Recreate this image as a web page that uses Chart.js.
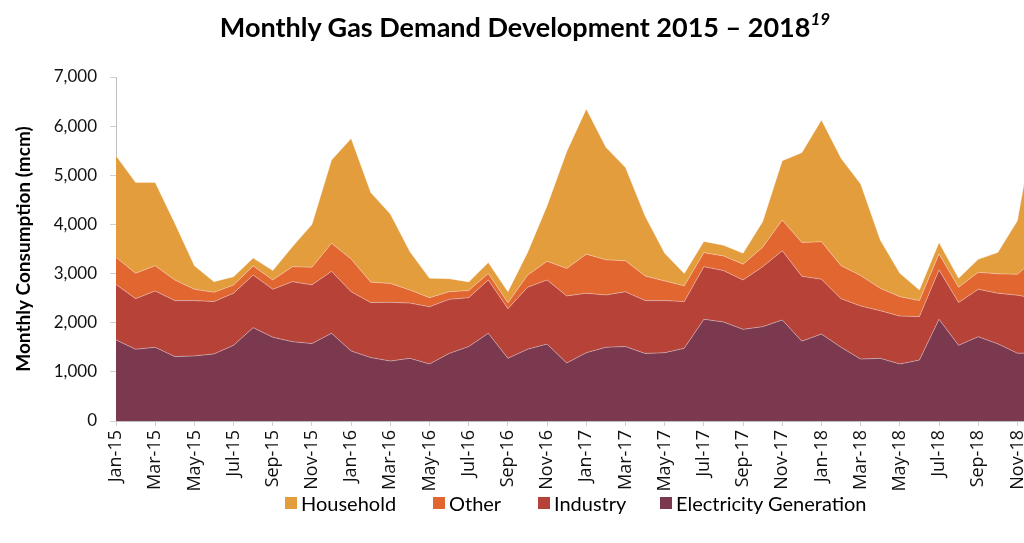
<!DOCTYPE html>
<html>
<head>
<meta charset="utf-8">
<script src="https://cdn.jsdelivr.net/npm/chart.js@4/dist/chart.umd.min.js"></script>
<style>
  html, body { margin: 0; padding: 0; background: #fff; overflow: hidden; width: 1024px; height: 543px; }
  #wrap { position: absolute; left: 0; top: 0; width: 1046px; height: 543px; }
  #title { position: absolute; top: 10px; left: 0; width: 1050px; text-align: center; font-family: Lato, "Open Sans", sans-serif; font-weight: bold; font-size: 27px; color: #000; white-space: nowrap; }
  #title sup { font-style: italic; font-size: 17px; position: relative; top: -2px; }
  #legend { position: absolute; top: 0; left: 0; font-family: Lato, "Open Sans", sans-serif; font-size: 20px; color: #000; white-space: nowrap; }
  .item { position: absolute; top: 491px; display: flex; align-items: center; height: 24px; }
  .box { width: 12px; height: 12px; margin-right: 4px; }
</style>
</head>
<body>
<div id="wrap"><canvas id="c" width="1046" height="543"></canvas></div>
<div id="title">Monthly Gas Demand Development 2015 – 2018<sup>19</sup></div>
<div id="legend"></div>
<script>
const months = ["Jan-15","Feb-15","Mar-15","Apr-15","May-15","Jun-15","Jul-15","Aug-15","Sep-15","Oct-15","Nov-15","Dec-15",
  "Jan-16","Feb-16","Mar-16","Apr-16","May-16","Jun-16","Jul-16","Aug-16","Sep-16","Oct-16","Nov-16","Dec-16",
  "Jan-17","Feb-17","Mar-17","Apr-17","May-17","Jun-17","Jul-17","Aug-17","Sep-17","Oct-17","Nov-17","Dec-17",
  "Jan-18","Feb-18","Mar-18","Apr-18","May-18","Jun-18","Jul-18","Aug-18","Sep-18","Oct-18","Nov-18","Dec-18"];

const electricity = [1650,1460,1500,1310,1325,1365,1540,1900,1705,1615,1575,1785,
  1425,1290,1220,1275,1160,1375,1515,1785,1275,1460,1565,1180,
  1390,1500,1515,1375,1390,1480,2070,2015,1865,1920,2055,1625,
  1770,1500,1260,1275,1160,1240,2070,1540,1715,1570,1380,1380];
const industry = [1130,1030,1145,1140,1125,1065,1060,1070,975,1220,1195,1260,
  1205,1120,1195,1125,1165,1100,995,1085,1010,1260,1305,1365,
  1210,1065,1115,1075,1060,950,1070,1045,1005,1220,1410,1320,
  1115,990,1080,970,975,885,1005,870,965,1030,1180,1110];
const other = [550,515,515,420,230,190,165,185,190,305,360,570,
  665,415,385,265,185,155,145,130,120,245,380,560,
  795,715,630,500,400,320,285,300,320,395,625,685,
  765,670,620,455,395,325,325,310,345,395,425,840];
const household = [2070,1850,1695,1155,480,215,170,160,190,405,870,1695,
  2455,1825,1410,780,395,265,175,225,225,460,1130,2375,
  2955,2290,1900,1220,565,250,230,215,225,520,1205,1830,
  2475,2185,1865,985,475,215,230,185,265,435,1090,2970];

const seriesNames = ["Electricity Generation","Industry","Other","Household"];
const seriesColors = ["#7B3950","#B74238","#E2662F","#E39D3D"];
const seriesData = [electricity, industry, other, household];
const yTicks = [0,1000,2000,3000,4000,5000,6000,7000];

const datasets = seriesData.map((d, k) => ({
  label: seriesNames[k],
  data: d,
  backgroundColor: seriesColors[k],
  borderColor: "rgba(255,255,255,0.35)",
  borderWidth: 1,
  fill: k === 0 ? "origin" : "-1",
  pointRadius: 0,
  tension: 0
}));

const fontFam = "Lato, 'Open Sans', sans-serif";

new Chart(document.getElementById("c"), {
  type: "line",
  data: { labels: months, datasets },
  options: {
    responsive: false,
    animation: false,
    devicePixelRatio: 1,
    layout: { padding: { top: 77, left: 0, right: 9, bottom: 0 } },
    plugins: { legend: { display: false }, tooltip: { enabled: false } },
    scales: {
      x: {
        type: "category",
        offset: false,
        grid: { display: true, drawOnChartArea: false, drawTicks: true, tickLength: 5, color: "#d0d0d0" },
        border: { display: true, color: "#bfbfbf" },
        ticks: {
          autoSkip: false, minRotation: 90, maxRotation: 90, padding: 4,
          color: "#111", font: { family: "'Open Sans', Lato, sans-serif", size: 18 },
          callback: (v, i) => (i % 2 === 0 ? months[i] : null)
        },
        afterFit: (s) => { s.height = 122; }
      },
      y: {
        stacked: true,
        min: 0, max: 7000,
        afterBuildTicks: (s) => { s.ticks = yTicks.map(v => ({ value: v })); },
        grid: { display: true, drawOnChartArea: false, drawTicks: true, tickLength: 6, color: "#d0d0d0" },
        border: { display: true, color: "#bfbfbf" },
        ticks: {
          padding: 13, color: "#111", font: { family: fontFam, size: 17 },
          callback: (v) => v.toLocaleString("en-US")
        },
        title: {
          display: true, text: "Monthly Consumption (mcm)", color: "#000",
          font: { family: fontFam, size: 19, weight: "bold" }, padding: { top: 12, bottom: 0 }
        },
        afterFit: (s) => { s.width = 116; }
      }
    }
  }
});

const legendOrder = [3, 2, 1, 0];
const legendX = [285, 433, 538, 660];
const lg = document.getElementById("legend");
legendOrder.forEach((k, j) => {
  const it = document.createElement("div");
  it.className = "item";
  it.style.left = legendX[j] + "px";
  const b = document.createElement("span");
  b.className = "box";
  b.style.background = seriesColors[k];
  const t = document.createElement("span");
  t.textContent = seriesNames[k];
  it.appendChild(b); it.appendChild(t);
  lg.appendChild(it);
});
</script>
</body>
</html>
